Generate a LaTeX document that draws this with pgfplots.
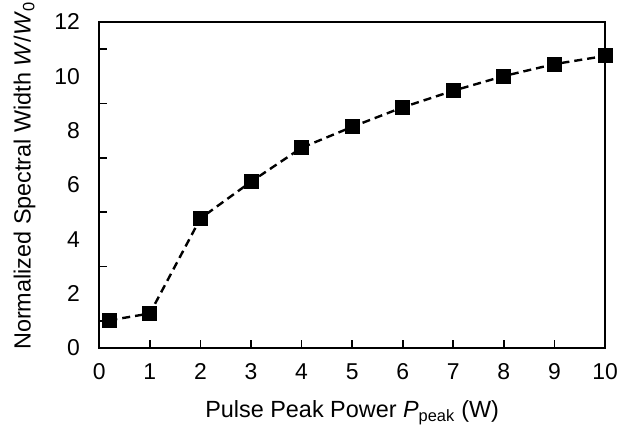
\documentclass[border=0pt]{standalone}
\usepackage{fontspec}
\setmainfont{Liberation Sans}
\usepackage{pgfplots}
\pgfplotsset{compat=1.18}

\begin{document}
\begin{tikzpicture}
\begin{axis}[
    scale only axis,
    width=505.7bp, height=326bp,
    xmin=0, xmax=10,
    ymin=0, ymax=12,
    xtick={0,1,...,10},
    ytick={0,2,...,12},
    minor ytick={1,3,...,11},
    xtick pos=bottom, ytick pos=left,
    tick align=inside,
    major tick length=8bp,
    minor tick length=8bp,
    every major y tick/.append style={draw=none},
    tick style={black, line width=1.6pt},
    axis line style={line width=2.2pt},
    /pgf/number format/assume math mode=true,
    ticklabel style={font=\fontsize{23}{26}\selectfont},
    xticklabel style={yshift=-12bp},
    yticklabel style={xshift=-16bp},
    xlabel={Pulse Peak Power \textit{P}\textsubscript{peak} (W)},
    ylabel={Normalized Spectral Width \textit{W}/\textit{W}\textsubscript{0}},
    label style={font=\fontsize{23.5}{26}\selectfont},
    xlabel style={yshift=-14bp},
    ylabel style={yshift=12bp, xshift=9bp},
    clip=false,
]
\addplot[
    black,
    line width=2.4pt,
    dash pattern=on 8bp off 5bp,
    mark=square*,
    mark size=6.3bp,
    mark options={solid},
    ]
    coordinates {
    (0.2, 1.02)(1, 1.27)(2, 4.77)(3, 6.12)(4, 7.37)(5, 8.14)(6, 8.86)(7, 9.47)(8, 10.01)(9, 10.45)(10, 10.75)
    };
\coordinate (ll) at (rel axis cs:0,0);
\coordinate (ur) at (rel axis cs:1,1);
\end{axis}
\pgfresetboundingbox
\path ([shift={(-99.3bp,-84bp)}]ll) rectangle ([shift={(22bp,22bp)}]ur);
\end{tikzpicture}
\end{document}
